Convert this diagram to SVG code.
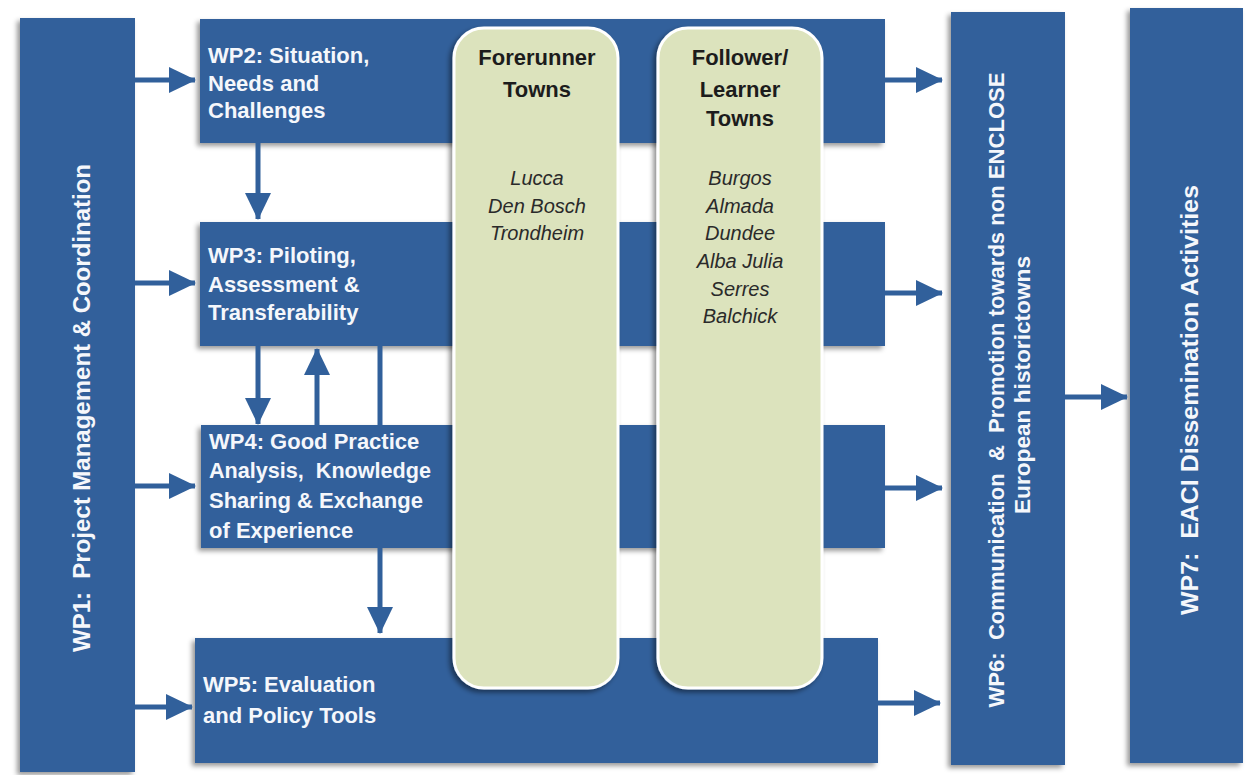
<svg xmlns="http://www.w3.org/2000/svg" width="1249" height="775" viewBox="0 0 1249 775">
  <style>
    text { white-space: pre; }
    .wp { fill: #31609b; filter: url(#sh); }
    .town { fill: #dce3bd; stroke: #ffffff; stroke-width: 3; filter: url(#sh2); }
    .lbl { font-family: "Liberation Sans", Arial, sans-serif; font-weight: bold; font-size: 22px; fill: #f5f7fb; }
    .vlbl { font-family: "Liberation Sans", Arial, sans-serif; font-weight: bold; font-size: 23px; fill: #f5f7fb; text-anchor: middle; }
    .head { font-family: "Liberation Sans", Arial, sans-serif; font-weight: bold; font-size: 22px; fill: #1c1c1c; text-anchor: middle; }
    .city { font-family: "Liberation Sans", Arial, sans-serif; font-style: italic; font-size: 20px; fill: #2a2a2a; text-anchor: middle; }
    .conn { stroke: #31609b; stroke-width: 5; fill: none; }
  </style>
  <defs>
    <filter id="sh" x="-10%" y="-10%" width="120%" height="120%">
      <feDropShadow dx="-3" dy="3" stdDeviation="2.5" flood-color="#000" flood-opacity="0.4"/>
    </filter>
    <filter id="sh2" x="-10%" y="-10%" width="120%" height="120%">
      <feDropShadow dx="-3" dy="3" stdDeviation="2.5" flood-color="#000" flood-opacity="0.45"/>
    </filter>
    <marker id="ah" viewBox="0 0 27 26" refX="26" refY="13" markerWidth="27" markerHeight="26" markerUnits="userSpaceOnUse" orient="auto">
      <path d="M0,0 L27,13 L0,26 Z" fill="#31609b"/>
    </marker>
  </defs>
  <rect width="1249" height="775" fill="#ffffff"/>

  <g id="wp1">
    <rect class="wp" x="20" y="18" width="115" height="754"/>
    <text class="vlbl" transform="translate(90 408) rotate(-90)" style="font-size:24px">WP1:  Project Management &amp; Coordination</text>
  </g>

  <g id="wp2">
    <rect class="wp" x="200" y="19" width="685" height="124"/>
    <text class="lbl" x="208" y="63">WP2: Situation,</text>
    <text class="lbl" x="208" y="91">Needs and</text>
    <text class="lbl" x="208" y="118">Challenges</text>
  </g>

  <g id="wp3">
    <rect class="wp" x="200" y="222" width="685" height="124"/>
    <text class="lbl" x="208" y="263">WP3: Piloting,</text>
    <text class="lbl" x="208" y="292">Assessment &amp;</text>
    <text class="lbl" x="208" y="320">Transferability</text>
  </g>

  <g id="wp4">
    <rect class="wp" x="201" y="425" width="684" height="123"/>
    <text class="lbl" x="209" y="449">WP4: Good Practice</text>
    <text class="lbl" x="209" y="478" textLength="222" lengthAdjust="spacingAndGlyphs">Analysis,  Knowledge</text>
    <text class="lbl" x="209" y="508">Sharing &amp; Exchange</text>
    <text class="lbl" x="209" y="538">of Experience</text>
  </g>

  <g id="wp5">
    <rect class="wp" x="195" y="638" width="683" height="125"/>
    <text class="lbl" x="203" y="692">WP5: Evaluation</text>
    <text class="lbl" x="203" y="723">and Policy Tools</text>
  </g>

  <g id="wp6">
    <rect class="wp" x="951" y="12" width="114" height="753"/>
    <text class="vlbl" transform="translate(1004 390) rotate(-90)" style="font-size:22px" textLength="635" lengthAdjust="spacingAndGlyphs">WP6:  Communication  &amp;  Promotion towards non ENCLOSE</text>
    <text class="vlbl" transform="translate(1030 385) rotate(-90)" style="font-size:22px" textLength="258" lengthAdjust="spacingAndGlyphs">European historictowns</text>
  </g>

  <g id="wp7">
    <rect class="wp" x="1130" y="8" width="113" height="755"/>
    <text class="vlbl" transform="translate(1198 400) rotate(-90)" style="font-size:24px" textLength="430" lengthAdjust="spacingAndGlyphs">WP7:  EACI Dissemination Activities</text>
  </g>

  <g id="connectors">
    <line class="conn" x1="135" y1="80" x2="195" y2="80" marker-end="url(#ah)"/>
    <line class="conn" x1="135" y1="283" x2="195" y2="283" marker-end="url(#ah)"/>
    <line class="conn" x1="135" y1="486" x2="195" y2="486" marker-end="url(#ah)"/>
    <line class="conn" x1="135" y1="707" x2="192" y2="707" marker-end="url(#ah)"/>
    <line class="conn" x1="258" y1="143" x2="258" y2="219" marker-end="url(#ah)"/>
    <line class="conn" x1="258" y1="346" x2="258" y2="424" marker-end="url(#ah)"/>
    <line class="conn" x1="317" y1="425" x2="317" y2="349" marker-end="url(#ah)"/>
    <line class="conn" x1="380" y1="346" x2="380" y2="425"/>
    <line class="conn" x1="380" y1="548" x2="380" y2="633" marker-end="url(#ah)"/>
    <line class="conn" x1="885" y1="80" x2="942" y2="80" marker-end="url(#ah)"/>
    <line class="conn" x1="885" y1="293" x2="942" y2="293" marker-end="url(#ah)"/>
    <line class="conn" x1="885" y1="488" x2="942" y2="488" marker-end="url(#ah)"/>
    <line class="conn" x1="878" y1="703" x2="940" y2="703" marker-end="url(#ah)"/>
    <line class="conn" x1="1065" y1="397" x2="1127" y2="397" marker-end="url(#ah)"/>
  </g>

  <g id="forerunner">
    <rect class="town" x="454" y="28" width="164" height="660" rx="30" ry="30"/>
    <text class="head" x="537" y="65">Forerunner</text>
    <text class="head" x="537" y="97">Towns</text>
    <text class="city" x="537" y="185">Lucca</text>
    <text class="city" x="537" y="213">Den Bosch</text>
    <text class="city" x="537" y="240">Trondheim</text>
  </g>

  <g id="follower">
    <rect class="town" x="658" y="28" width="164" height="660" rx="30" ry="30"/>
    <text class="head" x="740" y="65">Follower/</text>
    <text class="head" x="740" y="97">Learner</text>
    <text class="head" x="740" y="126">Towns</text>
    <text class="city" x="740" y="185">Burgos</text>
    <text class="city" x="740" y="213">Almada</text>
    <text class="city" x="740" y="240">Dundee</text>
    <text class="city" x="740" y="268">Alba Julia</text>
    <text class="city" x="740" y="296">Serres</text>
    <text class="city" x="740" y="323">Balchick</text>
  </g>
</svg>
